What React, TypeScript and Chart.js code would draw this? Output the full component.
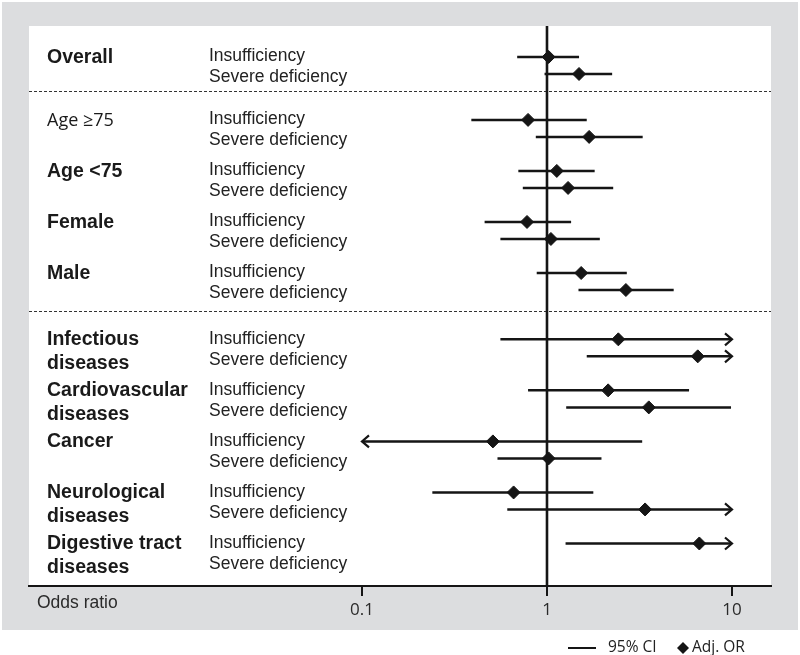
import React, { useEffect, useRef } from "react";
import { Chart, registerables } from "chart.js";

Chart.register(...registerables);

// ---- Data ----
const GROUP_LABELS = [
  "Overall",
  "Age ≥75",
  "Age <75",
  "Female",
  "Male",
  "Infectious\ndiseases",
  "Cardiovascular\ndiseases",
  "Cancer",
  "Neurological\ndiseases",
  "Digestive tract\ndiseases",
];
const GROUP_BOLD = [true, false, true, true, true, true, true, true, true, true];
const GROUP_SECTION = [0, 1, 1, 1, 1, 2, 2, 2, 2, 2];
const ROW_LABELS = ["Insufficiency", "Severe deficiency"];

const INS_OR = [1.02, 0.79, 1.13, 0.78, 1.53, 2.43, 2.14, 0.51, 0.66, 6.66];
const INS_LO = [0.69, 0.39, 0.7, 0.46, 0.88, 0.56, 0.79, 0.1, 0.24, 1.26];
const INS_HI = [1.49, 1.64, 1.81, 1.35, 2.7, 10, 5.86, 3.27, 1.78, 10];
const INS_ARROW = ["", "", "", "", "", "right", "", "left", "", "right"];

const SEV_OR: (number | null)[] = [1.49, 1.69, 1.3, 1.05, 2.67, 6.53, 3.55, 1.02, 3.39, null];
const SEV_LO: (number | null)[] = [0.97, 0.87, 0.74, 0.56, 1.48, 1.64, 1.27, 0.54, 0.61, null];
const SEV_HI: (number | null)[] = [2.25, 3.29, 2.28, 1.93, 4.84, 10, 9.88, 1.97, 10, null];
const SEV_ARROW = ["", "", "", "", "", "right", "", "", "right", ""];

const X_TICKS = [0.1, 1, 10];
const REFERENCE_OR = 1;
const LEGEND_LABELS = ["95% CI", "Adj. OR"];
const AXIS_TITLE = "Odds ratio";

// ---- Layout helpers (row slots) ----
const SECTION_START = [0, 3.7, 16.6];
const SEPARATORS = [2.0, 14.95];
const X_MIN = 0.001585;
const X_MAX = 16.25;
const Y_MIN = -1.82;
const Y_MAX = 31.1;

function groupPos(g: number): number {
  const s = GROUP_SECTION[g];
  let idx = 0;
  for (let i = 0; i < g; i++) if (GROUP_SECTION[i] === s) idx++;
  return SECTION_START[s] + 3 * idx;
}

const INK = "#151515";
const SANS = "'Liberation Sans', Arial, sans-serif";
const OPEN = "'Open Sans', 'Liberation Sans', sans-serif";

export default function App() {
  const ref = useRef<HTMLCanvasElement | null>(null);

  useEffect(() => {
    const canvas = ref.current;
    if (!canvas) return;

    const ciData: { x: number; y: number | null }[] = [];
    const orData: { x: number; y: number }[] = [];
    GROUP_LABELS.forEach((_, g) => {
      const p = groupPos(g);
      ciData.push({ x: INS_LO[g], y: p }, { x: INS_HI[g], y: p }, { x: 1, y: null });
      orData.push({ x: INS_OR[g], y: p });
      const so = SEV_OR[g], sl = SEV_LO[g], sh = SEV_HI[g];
      if (so != null && sl != null && sh != null) {
        ciData.push({ x: sl, y: p + 1 }, { x: sh, y: p + 1 }, { x: 1, y: null });
        orData.push({ x: so, y: p + 1 });
      }
    });

    const bgPlugin = {
      id: "bgPanel",
      beforeDraw(chart: any) {
        const { ctx, chartArea } = chart;
        ctx.save();
        ctx.fillStyle = "#ffffff";
        ctx.fillRect(0, 0, chart.width, chart.height);
        ctx.fillStyle = "#dcdddf";
        ctx.fillRect(2, 2, 796, 628);
        ctx.fillStyle = "#ffffff";
        ctx.fillRect(chartArea.left, chartArea.top, chartArea.right - chartArea.left, chartArea.bottom - chartArea.top);
        ctx.restore();
      },
      beforeDatasetsDraw(chart: any) {
        const { ctx, chartArea, scales } = chart;
        ctx.save();
        ctx.strokeStyle = "#333";
        ctx.lineWidth = 1;
        ctx.setLineDash([3, 2]);
        SEPARATORS.forEach((v) => {
          const y = Math.round(scales.y.getPixelForValue(v)) + 0.5;
          ctx.beginPath();
          ctx.moveTo(chartArea.left, y);
          ctx.lineTo(chartArea.right, y);
          ctx.stroke();
        });
        ctx.restore();
      },
      afterDatasetsDraw(chart: any) {
        const { ctx, scales } = chart;
        ctx.save();
        ctx.strokeStyle = INK;
        ctx.lineWidth = 2.2;
        ctx.lineJoin = "miter";
        const drawArrow = (val: number, row: number, dir: string) => {
          const px = scales.x.getPixelForValue(val);
          const py = scales.y.getPixelForValue(row);
          const d = dir === "right" ? -1 : 1;
          ctx.beginPath();
          ctx.moveTo(px + d * 7, py - 6);
          ctx.lineTo(px, py);
          ctx.lineTo(px + d * 7, py + 6);
          ctx.stroke();
        };
        GROUP_LABELS.forEach((_, g) => {
          const p = groupPos(g);
          if (INS_ARROW[g] === "right") drawArrow(INS_HI[g], p, "right");
          if (INS_ARROW[g] === "left") drawArrow(INS_LO[g], p, "left");
          if (SEV_ARROW[g] === "right" && SEV_HI[g] != null) drawArrow(SEV_HI[g] as number, p + 1, "right");
          if (SEV_ARROW[g] === "left" && SEV_LO[g] != null) drawArrow(SEV_LO[g] as number, p + 1, "left");
        });
        ctx.restore();
      },
      afterDraw(chart: any) {
        const { ctx, scales } = chart;
        ctx.save();
        ctx.textBaseline = "middle";
        ctx.textAlign = "left";
        GROUP_LABELS.forEach((label, g) => {
          const p = groupPos(g);
          const yIns = scales.y.getPixelForValue(p);
          const ySev = scales.y.getPixelForValue(p + 1);
          // group label
          ctx.fillStyle = "#1a1a1a";
          ctx.font = GROUP_BOLD[g] ? `bold 19.5px ${SANS}` : `18px ${OPEN}`;
          label.split("\n").forEach((line, i) => {
            ctx.fillText(line, 47, yIns + 0.5 + i * 24);
          });
          // row labels
          ctx.fillStyle = "#222";
          ctx.font = `17.5px ${SANS}`;
          ctx.fillText(ROW_LABELS[0], 209, yIns - 0.5);
          ctx.fillText(ROW_LABELS[1], 209, ySev + 3.5);
        });
        // axis title
        ctx.fillStyle = "#2a2a2a";
        ctx.font = `17.5px ${SANS}`;
        ctx.fillText(AXIS_TITLE, 37, 603);
        // legend
        const ly = 648;
        ctx.strokeStyle = INK;
        ctx.lineWidth = 2;
        ctx.beginPath();
        ctx.moveTo(568, ly);
        ctx.lineTo(596, ly);
        ctx.stroke();
        ctx.fillStyle = "#222";
        ctx.font = `15.5px ${OPEN}`;
        ctx.fillText(LEGEND_LABELS[0], 608, ly);
        ctx.fillStyle = INK;
        ctx.beginPath();
        ctx.moveTo(677, ly);
        ctx.lineTo(683, ly - 6);
        ctx.lineTo(689, ly);
        ctx.lineTo(683, ly + 6);
        ctx.closePath();
        ctx.fill();
        ctx.fillStyle = "#222";
        ctx.fillText(LEGEND_LABELS[1], 692, ly);
        ctx.restore();
      },
    };

    const chart = new Chart(canvas, {
      type: "line",
      data: {
        datasets: [
          {
            label: LEGEND_LABELS[0],
            data: ciData as any,
            borderColor: INK,
            borderWidth: 2.5,
            pointRadius: 0,
            spanGaps: false,
            order: 2,
          } as any,
          {
            type: "scatter",
            label: LEGEND_LABELS[1],
            data: orData,
            pointStyle: "rectRot",
            pointRadius: 6.5,
            backgroundColor: INK,
            borderColor: INK,
            borderWidth: 1,
            showLine: false,
            order: 1,
          } as any,
          {
            label: "reference",
            data: [
              { x: REFERENCE_OR, y: Y_MIN },
              { x: REFERENCE_OR, y: Y_MAX },
            ],
            borderColor: INK,
            borderWidth: 2.6,
            pointRadius: 0,
            order: 3,
          } as any,
        ],
      },
      options: {
        animation: false,
        responsive: false,
        layout: { padding: { left: 29, right: 29, top: 26, bottom: 25 } },
        plugins: { legend: { display: false }, tooltip: { enabled: false } },
        scales: {
          x: {
            type: "logarithmic",
            min: X_MIN,
            max: X_MAX,
            afterBuildTicks: (scale: any) => {
              scale.ticks = X_TICKS.map((v) => ({ value: v }));
              scale.min = X_MIN;
              scale.max = X_MAX;
            },
            afterFit: (scale: any) => {
              scale.height = 44;
            },
            ticks: {
              autoSkip: false,
              maxRotation: 0,
              padding: 4,
              color: "#2a2a2a",
              font: { family: OPEN, size: 17 },
              callback: (v: any) => String(v),
            },
            grid: {
              drawOnChartArea: false,
              drawTicks: true,
              tickLength: 10,
              color: INK,
              lineWidth: 2,
            },
            border: { display: true, color: INK, width: 2 },
          } as any,
          y: {
            type: "linear",
            reverse: true,
            min: Y_MIN,
            max: Y_MAX,
            display: false,
          },
        },
      },
      plugins: [bgPlugin],
    });

    return () => chart.destroy();
  }, []);

  return (
    <div style={{ position: "absolute", left: 0, top: 0, width: 800, height: 655 }}>
      <canvas ref={ref} width={800} height={655} style={{ display: "block" }} />
    </div>
  );
}
